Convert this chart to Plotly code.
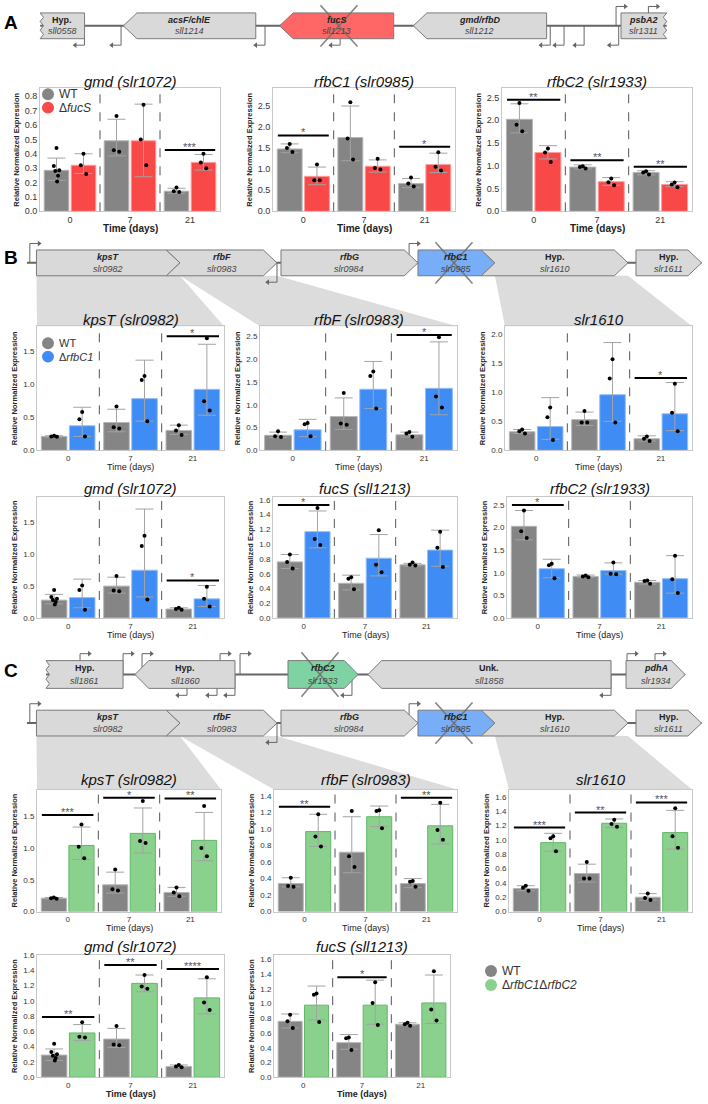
import plotly.graph_objects as go

W, H = 708, 1104
FONT = "Liberation Sans, Arial, sans-serif"

TIME_LABELS = ["0", "7", "21"]
GROUPS = [0, 1, 2]

# ================= DATA =================
# ---- Panel A : WT vs ΔfucS ----
A1_wt = [0.285, 0.49, 0.14]
A1_wt_hi = [0.37, 0.64, 0.16]
A1_wt_lo = [0.215, 0.385, 0.125]
A1_wt_pts = [[0.44, 0.315, 0.285, 0.28, 0.247, 0.208], [0.663, 0.425, 0.414], [0.165, 0.14, 0.135]]
A1_mu = [0.32, 0.49, 0.34]
A1_mu_hi = [0.40, 0.745, 0.395]
A1_mu_lo = [0.263, 0.24, 0.286]
A1_mu_pts = [[0.40, 0.32, 0.26], [0.74, 0.50, 0.32], [0.40, 0.34, 0.30]]
A1_sig = [(2, 0.427, "***")]

A2_wt = [1.48, 1.75, 0.66]
A2_wt_hi = [1.60, 2.50, 0.78]
A2_wt_lo = [1.39, 1.20, 0.56]
A2_wt_pts = [[1.60, 1.50, 1.41], [2.59, 1.73, 1.23], [0.80, 0.66, 0.59]]
A2_mu = [0.83, 1.07, 1.11]
A2_mu_hi = [1.05, 1.22, 1.38]
A2_mu_lo = [0.63, 0.93, 0.92]
A2_mu_pts = [[1.11, 0.74, 0.74], [1.25, 1.03, 0.99], [1.40, 1.06, 0.97]]
A2_sig = [(0, 1.80, "*"), (2, 1.53, "*")]

A3_wt = [2.02, 0.97, 0.85]
A3_wt_hi = [2.36, 1.02, 0.89]
A3_wt_lo = [1.72, 0.93, 0.80]
A3_wt_pts = [[2.38, 1.90, 1.76], [0.99, 0.97, 0.94], [0.88, 0.85, 0.81]]
A3_mu = [1.29, 0.65, 0.59]
A3_mu_hi = [1.44, 0.74, 0.65]
A3_mu_lo = [1.15, 0.57, 0.54]
A3_mu_pts = [[1.38, 1.29, 1.08], [0.72, 0.64, 0.57], [0.63, 0.59, 0.53]]
A3_sig = [(0, 2.45, "**"), (1, 1.12, "**"), (2, 0.98, "**")]

# ---- Panel B : WT vs ΔrfbC1 ----
B1_wt = [0.21, 0.42, 0.30]
B1_wt_hi = [0.22, 0.62, 0.38]
B1_wt_lo = [0.20, 0.28, 0.24]
B1_wt_pts = [[0.22, 0.21, 0.205], [0.66, 0.35, 0.33], [0.38, 0.30, 0.23]]
B1_mu = [0.37, 0.78, 0.92]
B1_mu_hi = [0.65, 1.36, 1.60]
B1_mu_lo = [0.21, 0.44, 0.53]
B1_mu_pts = [[0.58, 0.47, 0.21], [1.12, 1.06, 0.44], [1.69, 0.74, 0.60]]
B1_sig = [(2, 1.72, "*")]

B2_wt = [0.33, 0.74, 0.34]
B2_wt_hi = [0.40, 1.15, 0.40]
B2_wt_lo = [0.28, 0.46, 0.29]
B2_wt_pts = [[0.42, 0.31, 0.29], [1.26, 0.59, 0.56], [0.40, 0.37, 0.30]]
B2_mu = [0.45, 1.34, 1.36]
B2_mu_hi = [0.68, 1.95, 2.38]
B2_mu_lo = [0.30, 0.92, 0.78]
B2_mu_pts = [[0.60, 0.57, 0.31], [1.73, 1.63, 0.92], [2.48, 1.18, 0.94]]
B2_sig = [(2, 2.53, "*")]

B3_wt = [0.32, 0.53, 0.20]
B3_wt_hi = [0.36, 0.66, 0.25]
B3_wt_lo = [0.29, 0.43, 0.16]
B3_wt_pts = [[0.36, 0.33, 0.29], [0.68, 0.48, 0.48], [0.24, 0.20, 0.16]]
B3_mu = [0.41, 0.96, 0.63]
B3_mu_hi = [0.91, 1.86, 1.17]
B3_mu_lo = [0.19, 0.50, 0.34]
B3_mu_pts = [[0.74, 0.57, 0.18], [1.57, 1.24, 0.48], [1.15, 0.65, 0.33]]
B3_sig = [(2, 1.25, "*")]

B4_wt = [0.28, 0.50, 0.14]
B4_wt_hi = [0.37, 0.64, 0.16]
B4_wt_lo = [0.22, 0.39, 0.13]
B4_wt_pts = [[0.44, 0.33, 0.30, 0.28, 0.25, 0.21], [0.66, 0.43, 0.42], [0.16, 0.14, 0.13]]
B4_mu = [0.32, 0.75, 0.30]
B4_mu_hi = [0.61, 1.71, 0.51]
B4_mu_lo = [0.16, 0.33, 0.18]
B4_mu_pts = [[0.51, 0.44, 0.13], [1.29, 1.13, 0.29], [0.49, 0.30, 0.18]]
B4_sig = [(2, 0.59, "*")]

B5_wt = [0.76, 0.47, 0.72]
B5_wt_hi = [0.86, 0.58, 0.74]
B5_wt_lo = [0.67, 0.38, 0.70]
B5_wt_pts = [[0.86, 0.76, 0.67], [0.55, 0.53, 0.39], [0.75, 0.72, 0.71]]
B5_mu = [1.17, 0.81, 0.92]
B5_mu_hi = [1.45, 1.13, 1.19]
B5_mu_lo = [0.95, 0.57, 0.70]
B5_mu_pts = [[1.49, 1.07, 0.99], [1.19, 0.72, 0.62], [1.17, 0.95, 0.69]]
B5_sig = [(0, 1.53, "*")]

B6_wt = [2.03, 0.92, 0.79]
B6_wt_hi = [2.38, 0.95, 0.83]
B6_wt_lo = [1.73, 0.90, 0.75]
B6_wt_pts = [[2.38, 1.92, 1.77], [0.94, 0.92, 0.90], [0.83, 0.82, 0.76]]
B6_mu = [1.09, 1.05, 0.87]
B6_mu_hi = [1.30, 1.22, 1.38]
B6_mu_lo = [0.89, 0.97, 0.55]
B6_mu_pts = [[1.20, 1.17, 0.88], [1.23, 0.98, 0.97], [1.38, 0.86, 0.55]]
B6_sig = [(0, 2.50, "*")]

# ---- Panel C : WT vs ΔrfbC1ΔrfbC2 ----
C1_wt = [0.21, 0.42, 0.30]
C1_wt_hi = [0.22, 0.62, 0.38]
C1_wt_lo = [0.20, 0.29, 0.24]
C1_wt_pts = [[0.22, 0.21, 0.20], [0.66, 0.35, 0.33], [0.38, 0.30, 0.24]]
C1_mu = [1.04, 1.23, 1.12]
C1_mu_hi = [1.33, 1.63, 1.56]
C1_mu_lo = [0.82, 0.92, 0.80]
C1_mu_pts = [[1.37, 1.02, 0.84], [1.74, 1.11, 1.08], [1.66, 1.00, 0.87]]
C1_sig = [(0, 1.52, "***"), (1, 1.79, "*"), (2, 1.78, "**")]

C2_wt = [0.34, 0.72, 0.34]
C2_wt_hi = [0.41, 1.15, 0.40]
C2_wt_lo = [0.30, 0.47, 0.29]
C2_wt_pts = [[0.41, 0.31, 0.30], [1.22, 0.67, 0.54], [0.37, 0.36, 0.30]]
C2_mu = [0.97, 1.15, 1.04]
C2_mu_hi = [1.18, 1.28, 1.30]
C2_mu_lo = [0.79, 1.03, 0.82]
C2_mu_pts = [[1.18, 0.91, 0.79], [1.23, 1.22, 1.01], [1.32, 0.99, 0.87]]
C2_sig = [(0, 1.27, "**"), (2, 1.38, "**")]

C3_wt = [0.32, 0.53, 0.20]
C3_wt_hi = [0.36, 0.66, 0.25]
C3_wt_lo = [0.29, 0.41, 0.16]
C3_wt_pts = [[0.36, 0.33, 0.29], [0.69, 0.46, 0.46], [0.25, 0.19, 0.16]]
C3_mu = [0.96, 1.23, 1.10]
C3_mu_hi = [1.09, 1.29, 1.41]
C3_mu_lo = [0.84, 1.17, 0.87]
C3_mu_pts = [[1.05, 1.02, 0.84], [1.28, 1.22, 1.18], [1.44, 1.05, 0.89]]
C3_sig = [(0, 1.17, "***"), (1, 1.38, "**"), (2, 1.52, "***")]

C4_wt = [0.29, 0.50, 0.14]
C4_wt_hi = [0.37, 0.64, 0.16]
C4_wt_lo = [0.22, 0.39, 0.13]
C4_wt_pts = [[0.44, 0.33, 0.30, 0.28, 0.25, 0.22], [0.67, 0.43, 0.42], [0.16, 0.14, 0.13]]
C4_mu = [0.58, 1.23, 1.04]
C4_mu_hi = [0.69, 1.34, 1.29]
C4_mu_lo = [0.48, 1.12, 0.83]
C4_mu_pts = [[0.72, 0.53, 0.52], [1.34, 1.19, 1.16], [1.31, 0.98, 0.88]]
C4_sig = [(0, 0.79, "**"), (1, 1.47, "**"), (2, 1.42, "****")]

C5_wt = [0.76, 0.47, 0.72]
C5_wt_hi = [0.86, 0.58, 0.74]
C5_wt_lo = [0.67, 0.38, 0.70]
C5_wt_pts = [[0.85, 0.76, 0.67], [0.54, 0.53, 0.37], [0.74, 0.72, 0.70]]
C5_mu = [0.98, 0.98, 1.01]
C5_mu_hi = [1.24, 1.32, 1.39]
C5_mu_lo = [0.78, 0.72, 0.73]
C5_mu_pts = [[1.14, 1.12, 0.75], [1.29, 1.01, 0.71], [1.44, 0.92, 0.77]]
C5_sig = [(1, 1.36, "*")]

# ---- Gene maps (bp) ----
A_gene_start = [-90, 764, 2368, 3741, 5874]
A_gene_end = [366, 2124, 3540, 5110, 6343]
A_gene_strand = [-1, -1, -1, -1, 1]
A_gene_name = ["Hyp.", "acsF/chlE", "fucS", "gmd/rfbD", "psbA2"]
A_gene_tag = ["sll0558", "sll1214", "sll1213", "sll1212", "slr1311"]
A_prom_x = [365, 741, 2219, 2990, 5147, 5289, 5495, 5850, 5823, 6155]
A_prom_dir = [-1, -1, -1, -1, -1, -1, -1, -1, 1, 1]
A_knockout = 2978
A_backbone = [-90, 6343]

B_gene_start = [-262, 1070, 2246, 3651, 4300, 5887]
B_gene_end = [1210, 2205, 3651, 4441, 5805, 6560]
B_gene_strand = [1, 1, 1, 1, 1, 1]
B_gene_name = ["kpsT", "rfbF", "rfbG", "rfbC1", "Hyp.", "Hyp."]
B_gene_tag = ["slr0982", "slr0983", "slr0984", "slr0985", "slr1610", "slr1611"]
B_prom_x = [-330, 2205, 3560]
B_prom_dir = [1, -1, 1]
B_knockout = 4020
B_backbone = [-360, 6560]

C_gene_start = [-164, 749, 2318, 3138, 5785]
C_gene_end = [626, 1774, 3036, 5631, 6390]
C_gene_strand = [-1, -1, 1, -1, 1]
C_gene_name = ["Hyp.", "Hyp.", "rfbC2", "Unk.", "pdhA"]
C_gene_tag = ["sll1861", "sll1860", "slr1933", "sll1858", "slr1934"]
C_prom_x = [185, 626, 821, 1621, 1826, 5795, 6082, 1282, 1590, 1774, 2974, 5631]
C_prom_dir = [1, 1, 1, 1, 1, 1, 1, -1, -1, -1, -1, -1]
C_knockout = 2646
C_backbone = [-164, 6390]

SCALE_TICKS = [0, 1000, 2000, 3000, 4000, 5000, 6000]
SCALE_LABELS = ["0", "1.000", "2.000", "3.000", "4.000", "5.000", "\u00a0" * 6 + "6.000 bp"]

# ================= STYLE =================
FRAME = "#c8c8c8"
WT_COL = ("#858585", "#b5b5b5")
MUT_COL = {"fucS": ("#f94848", "#ff9c9c"), "rfbC1": ("#3f8cf4", "#93bdf8"), "dbl": ("#8bd18e", "#62b667")}
GREY_GENE = "#d9d9d9"
BAR_W = 0.41
OFF = (-0.225, 0.225)
JIT = [0.0, -0.045, 0.045, -0.02, 0.025, 0.01]

fig = go.Figure()
ax_n = [0]


def px2x(px):
    return min(1.0, max(0.0, px / W))


def py2y(py):
    return min(1.0, max(0.0, 1 - py / H))


def new_axes(x0, x1, ytop, ybot, xopt, yopt):
    ax_n[0] += 1
    n = ax_n[0]
    s = "" if n == 1 else str(n)
    fig.update_layout(**{
        "xaxis" + s: dict(domain=[px2x(x0), px2x(x1)], anchor="y" + s, **xopt),
        "yaxis" + s: dict(domain=[py2y(ybot), py2y(ytop)], anchor="x" + s, **yopt),
    })
    return "x" + s, "y" + s


def paper_text(xpx, ypx, text, size, color="#222", xanchor="center"):
    fig.add_annotation(x=px2x(xpx), y=py2y(ypx), xref="paper", yref="paper", text=text, showarrow=False,
                       xanchor=xanchor, yanchor="middle", font=dict(size=size, color=color))


def add_legend(items, cx, cy, dy, size):
    for k, (label, col) in enumerate(items):
        y = cy + k * dy
        fig.add_shape(type="circle", xref="paper", yref="paper", x0=px2x(cx - 6), x1=px2x(cx + 6),
                      y0=py2y(y + 6), y1=py2y(y - 6), fillcolor=col, line=dict(width=0))
        paper_text(cx + 9, y, label, size, "#333", xanchor="left")


def add_chart(c):
    big = c.get("big", False)
    ts = 9 if big else 8
    xopt = dict(range=[-0.5, 2.5], tickmode="array", tickvals=GROUPS, ticktext=TIME_LABELS,
                showline=True, mirror=True, linecolor=FRAME, linewidth=1, ticks="", showgrid=False,
                zeroline=False, tickfont=dict(size=ts, color="#333"))
    yopt = dict(range=[0, c["ymax"]], dtick=c["dtick"], tick0=0, tickformat=".1f", showline=True,
                mirror=True, linecolor=FRAME, linewidth=1, ticks="", showgrid=False, zeroline=False,
                tickfont=dict(size=ts, color="#333"),
                title=dict(text="<b>Relative Normalized Expression</b>", font=dict(size=7.5, color="#222"),
                           standoff=4))
    xr, yr = new_axes(c["xd"][0], c["xd"][1], c["yd"][0], c["yd"][1], xopt, yopt)
    for xv in (0.5, 1.5):
        fig.add_shape(type="line", xref=xr, yref=yr + " domain", x0=xv, x1=xv, y0=0, y1=1,
                      line=dict(color="#555", width=1, dash="dash"))
    series = [(c["wt"], WT_COL, OFF[0]), (c["mu"], MUT_COL[c["mut"]], OFF[1])]
    for (mean, hi, lo, pts), (fill, edge), off in series:
        fig.add_trace(go.Bar(
            x=[g + off for g in GROUPS], y=mean, width=BAR_W, xaxis=xr, yaxis=yr, showlegend=False,
            marker=dict(color=fill, line=dict(color=edge, width=1)),
            error_y=dict(type="data", symmetric=False, array=[h - m for h, m in zip(hi, mean)],
                         arrayminus=[m - l for m, l in zip(mean, lo)], color="#a3a3a3",
                         thickness=1, width=9)))
        xs, ys = [], []
        for g, grp in zip(GROUPS, pts):
            for j, v in enumerate(grp):
                xs.append(g + off + JIT[j % len(JIT)])
                ys.append(v)
        fig.add_trace(go.Scatter(x=xs, y=ys, mode="markers", xaxis=xr, yaxis=yr, showlegend=False,
                                 marker=dict(color="black", size=4)))
    for g, yv, lab in c["sig"]:
        fig.add_trace(go.Scatter(x=[g - 0.42, g + 0.42], y=[yv, yv], mode="lines", xaxis=xr, yaxis=yr,
                                 showlegend=False, line=dict(color="black", width=2)))
        fig.add_annotation(x=g, y=yv, xref=xr, yref=yr, text=lab, showarrow=False, yanchor="bottom",
                           yshift=-5, font=dict(size=11, color="#555"))
    xc = (c["xd"][0] + c["xd"][1]) / 2
    paper_text(xc, c["tpy"], "<i>" + c["title"] + "</i>", 15, "#111")
    xt = "<b>Time (days)</b>" if c.get("xbold") else "Time (days)"
    paper_text(xc, c["yd"][1] + 17, xt, 10 if big else 9, "#222")
    return xr, yr


def gene_poly(s, e, strand, kind, notch, tip=140):
    if kind == "trunc_l":
        xs = [e, e, s] + [s + 35, s, s + 35, s, s + 35, s]
        ys = [1, 0, 0] + [0.17, 0.33, 0.5, 0.67, 0.83, 1]
    elif kind == "trunc_r":
        xs = [s, s, e] + [e - 35, e, e - 35, e, e - 35, e]
        ys = [1, 0, 0] + [0.17, 0.33, 0.5, 0.67, 0.83, 1]
    elif strand > 0:
        xs = [s, e - tip, e, e - tip, s]
        ys = [0, 0, 0.5, 1, 1]
        if notch:
            xs += [s + tip]
            ys += [0.5]
    else:
        xs = [e, s + tip, s, s + tip, e]
        ys = [0, 0, 0.5, 1, 1]
        if notch:
            xs += [e - tip]
            ys += [0.5]
    return xs + [xs[0]], ys + [ys[0]]


def add_genemap(g, zero_px, kbpx, box_top, box_bot):
    unit = box_bot - box_top
    dom_top, dom_bot = max(0, box_top - 16), box_bot + 12
    perbp = kbpx / 1000.0
    xopt = dict(range=[(0 - zero_px) / perbp, (W - zero_px) / perbp], visible=False)
    yopt = dict(range=[(box_bot - dom_bot) / unit, (box_bot - dom_top) / unit], visible=False)
    xr, yr = new_axes(0, W, dom_top, dom_bot, xopt, yopt)
    fig.add_trace(go.Scatter(x=g["backbone"], y=[0.5, 0.5], mode="lines", xaxis=xr, yaxis=yr,
                             showlegend=False, line=dict(color="#666", width=2)))
    lx, ly, ax_, ay_, sym = [], [], [], [], []
    for p, d in zip(g["prom_x"], g["prom_dir"]):
        yend = 1.25 if d > 0 else -0.25
        xend = p + d * 95
        lx += [p, p, xend, None]
        ly += [0.5, yend, yend, None]
        ax_.append(xend)
        ay_.append(yend)
        sym.append("triangle-right" if d > 0 else "triangle-left")
    fig.add_trace(go.Scatter(x=lx, y=ly, mode="lines", xaxis=xr, yaxis=yr, showlegend=False,
                             line=dict(color="#666", width=1)))
    fig.add_trace(go.Scatter(x=ax_, y=ay_, mode="markers", xaxis=xr, yaxis=yr, showlegend=False,
                             marker=dict(symbol=sym, size=5, color="#666")))
    for i, (s, e, st) in enumerate(zip(g["start"], g["end"], g["strand"])):
        xs, ys = gene_poly(s, e, st, g["kind"][i], g["notch"][i])
        fig.add_trace(go.Scatter(x=xs, y=ys, mode="lines", fill="toself", fillcolor=g["fill"][i],
                                 xaxis=xr, yaxis=yr, showlegend=False,
                                 line=dict(color="#7a7a7a", width=1)))
        name = g["name"][i]
        nm = "<b>" + name + "</b>" if name in ("Hyp.", "Unk.") else "<b><i>" + name + "</i></b>"
        cx = (s + e) / 2
        fig.add_annotation(x=cx, y=0.73, xref=xr, yref=yr, text=nm, showarrow=False,
                           font=dict(size=9, color="#222"))
        fig.add_annotation(x=cx, y=0.28, xref=xr, yref=yr, text="<i>" + g["tag"][i] + "</i>",
                           showarrow=False, font=dict(size=9, color="#444"))
    k = g["knock"]
    fig.add_trace(go.Scatter(x=[k - 190, k + 190, None, k - 190, k + 190],
                             y=[1.3, -0.3, None, -0.3, 1.3], mode="lines", xaxis=xr, yaxis=yr,
                             showlegend=False, line=dict(color="rgba(110,110,110,0.85)", width=1.6)))
    return perbp


def add_scale(zero_px, kbpx, line_py):
    xopt = dict(range=[0, 6000], tickmode="array", tickvals=SCALE_TICKS, ticktext=SCALE_LABELS,
                showline=True, linecolor="#b9b9b9", linewidth=2, ticks="inside", ticklen=5,
                tickcolor="#b9b9b9", showgrid=False, zeroline=False,
                tickfont=dict(size=9, color="#9a9a9a"))
    yopt = dict(range=[0, 1], visible=False)
    new_axes(zero_px, zero_px + 6 * kbpx, line_py - 3, line_py, xopt, yopt)


def add_link(zero_px, perbp, s, e, top_py, x0, x1, bot_py):
    a, b = zero_px + s * perbp, zero_px + e * perbp
    path = "M {},{} L {},{} L {},{} L {},{} Z".format(
        px2x(a), py2y(top_py), px2x(b), py2y(top_py), px2x(x1), py2y(bot_py), px2x(x0), py2y(bot_py))
    fig.add_shape(type="path", xref="paper", yref="paper", path=path, layer="below",
                  fillcolor="#dcdcdc", line=dict(width=0))


# ================= BUILD =================
GA = dict(start=A_gene_start, end=A_gene_end, strand=A_gene_strand, name=A_gene_name, tag=A_gene_tag,
          prom_x=A_prom_x, prom_dir=A_prom_dir, knock=A_knockout, backbone=A_backbone,
          kind=["trunc_l", "arrow", "arrow", "arrow", "trunc_r"], notch=[0, 0, 0, 0, 0],
          fill=[GREY_GENE, GREY_GENE, "#ff6666", GREY_GENE, GREY_GENE])
GB = dict(start=B_gene_start, end=B_gene_end, strand=B_gene_strand, name=B_gene_name, tag=B_gene_tag,
          prom_x=B_prom_x, prom_dir=B_prom_dir, knock=B_knockout, backbone=B_backbone,
          kind=["arrow"] * 6, notch=[0, 1, 0, 0, 1, 0],
          fill=[GREY_GENE, GREY_GENE, GREY_GENE, "#78adf7", GREY_GENE, GREY_GENE])
GC = dict(start=C_gene_start, end=C_gene_end, strand=C_gene_strand, name=C_gene_name, tag=C_gene_tag,
          prom_x=C_prom_x, prom_dir=C_prom_dir, knock=C_knockout, backbone=C_backbone,
          kind=["trunc_l", "arrow", "arrow", "arrow", "arrow"], notch=[0, 0, 0, 0, 0],
          fill=[GREY_GENE, GREY_GENE, "#7fd3a2", GREY_GENE, GREY_GENE])

A_charts = [
    dict(title="gmd (slr1072)", xd=(40, 220), yd=(85, 209), tpy=78, ymax=0.855, dtick=0.1, big=True, xbold=True,
         wt=(A1_wt, A1_wt_hi, A1_wt_lo, A1_wt_pts), mu=(A1_mu, A1_mu_hi, A1_mu_lo, A1_mu_pts), mut="fucS",
         sig=A1_sig),
    dict(title="rfbC1 (slr0985)", xd=(273, 455), yd=(85, 209), tpy=78, ymax=2.92, dtick=0.5, big=True, xbold=True,
         wt=(A2_wt, A2_wt_hi, A2_wt_lo, A2_wt_pts), mu=(A2_mu, A2_mu_hi, A2_mu_lo, A2_mu_pts), mut="fucS",
         sig=A2_sig),
    dict(title="rfbC2 (slr1933)", xd=(502, 692), yd=(85, 209), tpy=78, ymax=2.7, dtick=0.5, big=True, xbold=True,
         wt=(A3_wt, A3_wt_hi, A3_wt_lo, A3_wt_pts), mu=(A3_mu, A3_mu_hi, A3_mu_lo, A3_mu_pts), mut="fucS",
         sig=A3_sig),
]
B_charts = [
    dict(title="kpsT (slr0982)", xd=(37, 224), yd=(325, 450), tpy=318, ymax=1.87, dtick=0.5,
         wt=(B1_wt, B1_wt_hi, B1_wt_lo, B1_wt_pts), mu=(B1_mu, B1_mu_hi, B1_mu_lo, B1_mu_pts), mut="rfbC1",
         sig=B1_sig),
    dict(title="rfbF (slr0983)", xd=(260, 457), yd=(325, 450), tpy=318, ymax=2.72, dtick=0.5,
         wt=(B2_wt, B2_wt_hi, B2_wt_lo, B2_wt_pts), mu=(B2_mu, B2_mu_hi, B2_mu_lo, B2_mu_pts), mut="rfbC1",
         sig=B2_sig),
    dict(title="slr1610", xd=(505, 692), yd=(325, 450), tpy=318, ymax=2.14, dtick=0.5,
         wt=(B3_wt, B3_wt_hi, B3_wt_lo, B3_wt_pts), mu=(B3_mu, B3_mu_hi, B3_mu_lo, B3_mu_pts), mut="rfbC1",
         sig=B3_sig),
    dict(title="gmd (slr1072)", xd=(37, 224), yd=(497, 619), tpy=488, ymax=1.9, dtick=0.5,
         wt=(B4_wt, B4_wt_hi, B4_wt_lo, B4_wt_pts), mu=(B4_mu, B4_mu_hi, B4_mu_lo, B4_mu_pts), mut="rfbC1",
         sig=B4_sig),
    dict(title="fucS (sll1213)", xd=(273, 457), yd=(497, 619), tpy=488, ymax=1.64, dtick=0.2,
         wt=(B5_wt, B5_wt_hi, B5_wt_lo, B5_wt_pts), mu=(B5_mu, B5_mu_hi, B5_mu_lo, B5_mu_pts), mut="rfbC1",
         sig=B5_sig),
    dict(title="rfbC2 (slr1933)", xd=(507, 692), yd=(497, 619), tpy=488, ymax=2.68, dtick=0.5,
         wt=(B6_wt, B6_wt_hi, B6_wt_lo, B6_wt_pts), mu=(B6_mu, B6_mu_hi, B6_mu_lo, B6_mu_pts), mut="rfbC1",
         sig=B6_sig),
]
C_charts = [
    dict(title="kpsT (slr0982)", xd=(37, 221), yd=(792, 915), tpy=782, ymax=1.92, dtick=0.5,
         wt=(C1_wt, C1_wt_hi, C1_wt_lo, C1_wt_pts), mu=(C1_mu, C1_mu_hi, C1_mu_lo, C1_mu_pts), mut="dbl",
         sig=C1_sig),
    dict(title="rfbF (slr0983)", xd=(274, 457), yd=(792, 915), tpy=782, ymax=1.48, dtick=0.2,
         wt=(C2_wt, C2_wt_hi, C2_wt_lo, C2_wt_pts), mu=(C2_mu, C2_mu_hi, C2_mu_lo, C2_mu_pts), mut="dbl",
         sig=C2_sig),
    dict(title="slr1610", xd=(509, 692), yd=(792, 915), tpy=782, ymax=1.7, dtick=0.2,
         wt=(C3_wt, C3_wt_hi, C3_wt_lo, C3_wt_pts), mu=(C3_mu, C3_mu_hi, C3_mu_lo, C3_mu_pts), mut="dbl",
         sig=C3_sig),
    dict(title="gmd (slr1072)", xd=(37, 224), yd=(959, 1082), tpy=950, ymax=1.6, dtick=0.2, xbold=True,
         wt=(C4_wt, C4_wt_hi, C4_wt_lo, C4_wt_pts), mu=(C4_mu, C4_mu_hi, C4_mu_lo, C4_mu_pts), mut="dbl",
         sig=C4_sig),
    dict(title="fucS (sll1213)", xd=(274, 450), yd=(959, 1082), tpy=950, ymax=1.66, dtick=0.2, xbold=True,
         wt=(C5_wt, C5_wt_hi, C5_wt_lo, C5_wt_pts), mu=(C5_mu, C5_mu_hi, C5_mu_lo, C5_mu_pts), mut="dbl",
         sig=C5_sig),
]

# Panel A
add_genemap(GA, 48.9, 97.4, 9, 35)
add_scale(48.9, 97.4, 50)
for c in A_charts:
    add_chart(c)
add_legend([("WT", WT_COL[0]), ("Δ<i>fucS</i>", MUT_COL["fucS"][0])], 48, 91, 13.5, 12)

# Panel B
pb = add_genemap(GB, 62, 97.5, 248, 274)
add_scale(62, 97.5, 290)
for c in B_charts:
    add_chart(c)
for gi, ci in ((0, 0), (1, 1), (4, 2)):
    s = GB["start"][gi] + (140 if GB["notch"][gi] else 0)
    add_link(62, pb, s, GB["end"][gi], 274, B_charts[ci]["xd"][0], B_charts[ci]["xd"][1], B_charts[ci]["yd"][0])
add_legend([("WT", WT_COL[0]), ("Δ<i>rfbC1</i>", MUT_COL["rfbC1"][0])], 48, 342, 13.5, 11)

# Panel C
add_genemap(GC, 62, 97.5, 662, 690)
pc = add_genemap(GB, 62, 97.5, 712, 738)
add_scale(93.6, 97.8, 756)
for c in C_charts:
    add_chart(c)
for gi, ci in ((0, 0), (1, 1), (4, 2)):
    s = GB["start"][gi] + (140 if GB["notch"][gi] else 0)
    add_link(62, pc, s, GB["end"][gi], 738, C_charts[ci]["xd"][0], C_charts[ci]["xd"][1], C_charts[ci]["yd"][0])
add_legend([("WT", WT_COL[0]), ("Δ<i>rfbC1</i>Δ<i>rfbC2</i>", MUT_COL["dbl"][0])], 491, 975, 14, 12)

for lab, py in (("A", 19), ("B", 256), ("C", 672)):
    paper_text(11, py, "<b>" + lab + "</b>", 19, "black")

fig.update_layout(
    width=W, height=H, margin=dict(l=0, r=0, t=0, b=0), paper_bgcolor="white",
    plot_bgcolor="rgba(0,0,0,0)", barmode="overlay", font=dict(family=FONT, color="#222"),
    showlegend=False,
)

fig.write_html("out.html")
